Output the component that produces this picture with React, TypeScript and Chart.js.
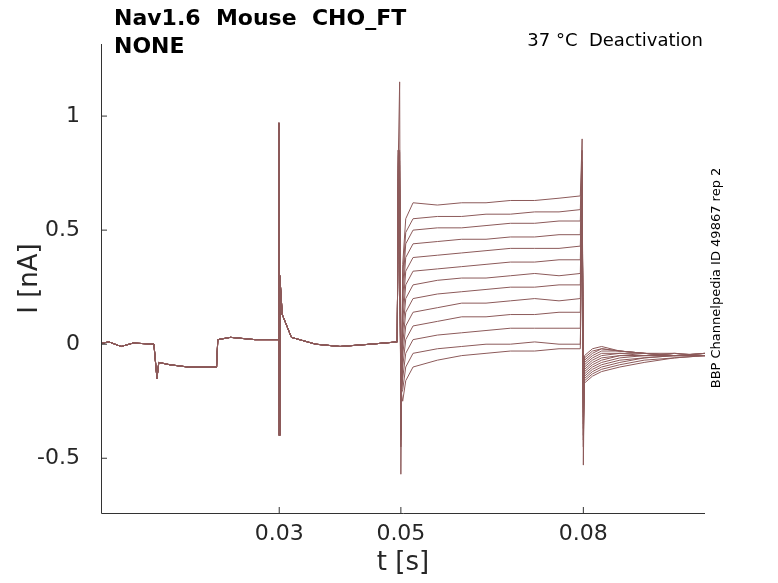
import React, { useEffect, useRef } from "react";
import { Chart, registerables } from "chart.js";
Chart.register(...registerables);

const COLOR = "#8c5a5a";
const xTicks = [0.03, 0.05, 0.08];
const yTicks = [-0.5, 0, 0.5, 1];

// shared pre-step part [t, I]
const preT = [0, 0.002, 0.004, 0.006, 0.0094, 0.0099, 0.0102, 0.012, 0.015, 0.0197, 0.0199, 0.022, 0.026, 0.0298, 0.02995, 0.03, 0.0301, 0.0305, 0.032, 0.036, 0.04, 0.045, 0.0494];
const preI = [0.0, 0.01, -0.01, 0.005, 0.0, -0.15, -0.08, -0.09, -0.1, -0.1, 0.02, 0.03, 0.02, 0.02, 0.97, -0.4, 0.3, 0.13, 0.03, 0.0, -0.01, 0.0, 0.01];
const spikeUp = [1.15, 0.85, 0.84, 0.8, 0.78, 0.75, 0.72, 0.7, 0.68, 0.66, 0.64, 0.6, 0.58];
const spikeDown = [-0.57, -0.45, -0.42, -0.4, -0.38, -0.35, -0.32, -0.3, -0.28, -0.26, -0.24, -0.22, -0.2];
const plateauT = [0.0503, 0.0508, 0.052, 0.056, 0.06, 0.064, 0.068, 0.072, 0.076, 0.0795];
const plateaus = [
  [0.35, 0.55, 0.62, 0.61, 0.62, 0.62, 0.63, 0.63, 0.64, 0.65],
  [0.3, 0.49, 0.55, 0.56, 0.56, 0.57, 0.57, 0.58, 0.58, 0.59],
  [0.25, 0.44, 0.5, 0.51, 0.51, 0.52, 0.53, 0.53, 0.54, 0.54],
  [0.2, 0.38, 0.44, 0.45, 0.46, 0.46, 0.47, 0.47, 0.48, 0.48],
  [0.15, 0.32, 0.38, 0.39, 0.4, 0.41, 0.42, 0.42, 0.42, 0.43],
  [0.1, 0.26, 0.32, 0.33, 0.34, 0.35, 0.36, 0.36, 0.37, 0.37],
  [0.05, 0.2, 0.26, 0.28, 0.29, 0.29, 0.3, 0.31, 0.3, 0.31],
  [0.0, 0.14, 0.2, 0.22, 0.23, 0.24, 0.25, 0.25, 0.26, 0.26],
  [-0.05, 0.08, 0.14, 0.16, 0.18, 0.18, 0.19, 0.2, 0.19, 0.2],
  [-0.1, 0.02, 0.08, 0.1, 0.12, 0.12, 0.13, 0.13, 0.14, 0.14],
  [-0.15, -0.04, 0.02, 0.04, 0.05, 0.06, 0.07, 0.07, 0.07, 0.07],
  [-0.2, -0.1, -0.04, -0.02, -0.01, 0.0, 0.0, 0.01, 0.0, 0.0],
  [-0.25, -0.16, -0.1, -0.07, -0.05, -0.04, -0.03, -0.03, -0.02, -0.02],
];
const tailUp = [0.9, 0.85, 0.8, 0.78, 0.75, 0.72, 0.7, 0.68, 0.66, 0.64, 0.62, 0.6, 0.58];
const tailDown = [-0.53, -0.45, -0.42, -0.4, -0.37, -0.35, -0.32, -0.3, -0.28, -0.26, -0.24, -0.22, -0.2];
const tailT = [0.0802, 0.0815, 0.083, 0.086, 0.09, 0.095, 0.1];
const tails = [
  [-0.05, -0.02, -0.01, -0.03, -0.04, -0.05, -0.05],
  [-0.06, -0.03, -0.02, -0.03, -0.04, -0.05, -0.04],
  [-0.07, -0.04, -0.02, -0.03, -0.04, -0.04, -0.05],
  [-0.08, -0.05, -0.03, -0.03, -0.04, -0.05, -0.05],
  [-0.09, -0.06, -0.04, -0.04, -0.04, -0.05, -0.04],
  [-0.1, -0.07, -0.05, -0.04, -0.05, -0.05, -0.05],
  [-0.11, -0.08, -0.06, -0.05, -0.05, -0.04, -0.05],
  [-0.12, -0.09, -0.07, -0.05, -0.05, -0.05, -0.05],
  [-0.13, -0.1, -0.08, -0.06, -0.05, -0.05, -0.04],
  [-0.14, -0.11, -0.09, -0.07, -0.06, -0.05, -0.05],
  [-0.15, -0.12, -0.1, -0.08, -0.06, -0.05, -0.05],
  [-0.16, -0.13, -0.11, -0.09, -0.07, -0.06, -0.05],
  [-0.17, -0.14, -0.12, -0.1, -0.08, -0.06, -0.05],
];

function sweep(i: number) {
  const pts: { x: number; y: number }[] = [];
  preT.forEach((t, k) => pts.push({ x: t, y: preI[k] }));
  pts.push({ x: 0.0496, y: 0.85 });
  pts.push({ x: 0.0498, y: spikeUp[i] });
  pts.push({ x: 0.05, y: spikeDown[i] });
  plateauT.forEach((t, k) => pts.push({ x: t, y: plateaus[i][k] }));
  pts.push({ x: 0.0798, y: tailUp[i] });
  pts.push({ x: 0.08, y: tailDown[i] });
  tailT.forEach((t, k) => pts.push({ x: t, y: tails[i][k] }));
  return pts;
}

const deco = {
  id: "deco",
  afterDraw(c: any) {
    const ctx = c.ctx;
    const a = c.chartArea;
    const xs = c.scales.x, ys = c.scales.y;
    const L = 101;
    ctx.save();
    ctx.strokeStyle = "#333";
    ctx.lineWidth = 1;
    ctx.beginPath();
    ctx.moveTo(L + 0.5, a.top);
    ctx.lineTo(L + 0.5, a.bottom + 0.5);
    ctx.lineTo(a.right, a.bottom + 0.5);
    ctx.stroke();
    ctx.fillStyle = "#262626";
    ctx.font = "22px 'DejaVu Sans'";
    ctx.textAlign = "right";
    ctx.textBaseline = "middle";
    yTicks.forEach((v) => {
      const y = ys.getPixelForValue(v);
      ctx.beginPath(); ctx.moveTo(L, y); ctx.lineTo(L + 6, y); ctx.stroke();
      ctx.fillText(String(v), L - 21, y);
    });
    ctx.textAlign = "center";
    ctx.textBaseline = "top";
    xTicks.forEach((v) => {
      const x = xs.getPixelForValue(v);
      ctx.beginPath(); ctx.moveTo(x, a.bottom); ctx.lineTo(x, a.bottom - 6); ctx.stroke();
      ctx.fillText(String(v), x, a.bottom + 10);
    });
    ctx.font = "26px 'DejaVu Sans'";
    ctx.fillText("t [s]", (L + a.right) / 2, 550);
    ctx.save();
    ctx.translate(30, (a.top + a.bottom) / 2);
    ctx.rotate(-Math.PI / 2);
    ctx.textBaseline = "middle";
    ctx.fillText("I [nA]", 0, 0);
    ctx.restore();
    ctx.fillStyle = "#000";
    ctx.textAlign = "left";
    ctx.textBaseline = "middle";
    ctx.font = "bold 22px 'DejaVu Sans'";
    ctx.fillText("Nav1.6  Mouse  CHO_FT", 114, 19);
    ctx.fillText("NONE", 114, 47);
    ctx.font = "18px 'DejaVu Sans'";
    ctx.textAlign = "right";
    ctx.fillText("37 °C  Deactivation", 703, 41);
    ctx.save();
    ctx.translate(717, 278);
    ctx.rotate(-Math.PI / 2);
    ctx.textAlign = "center";
    ctx.font = "13px 'DejaVu Sans'";
    ctx.fillText("BBP Channelpedia ID 49867 rep 2", 0, 0);
    ctx.restore();
    ctx.restore();
  },
};

export default function App() {
  const ref = useRef<HTMLCanvasElement>(null);
  useEffect(() => {
    const chart = new Chart(ref.current!, {
      type: "line",
      data: {
        datasets: plateaus.map((_, i) => ({
          data: sweep(i),
          borderColor: COLOR,
          borderWidth: 1,
          pointRadius: 0,
          tension: 0,
        })),
      },
      options: {
        animation: false,
        responsive: false,
        events: [],
        layout: { padding: { left: 101, right: 73, top: 44, bottom: 70 } },
        plugins: { legend: { display: false }, tooltip: { enabled: false } },
        scales: {
          x: { type: "linear", min: 0.0007, max: 0.1, display: false },
          y: { min: -0.74, max: 1.316, display: false },
        },
      },
      plugins: [deco],
    });
    return () => chart.destroy();
  }, []);
  return (
    <div style={{ position: "absolute", left: 0, top: 0, width: 778, height: 583, background: "#fff" }}>
      <canvas ref={ref} width={778} height={583} />
    </div>
  );
}
